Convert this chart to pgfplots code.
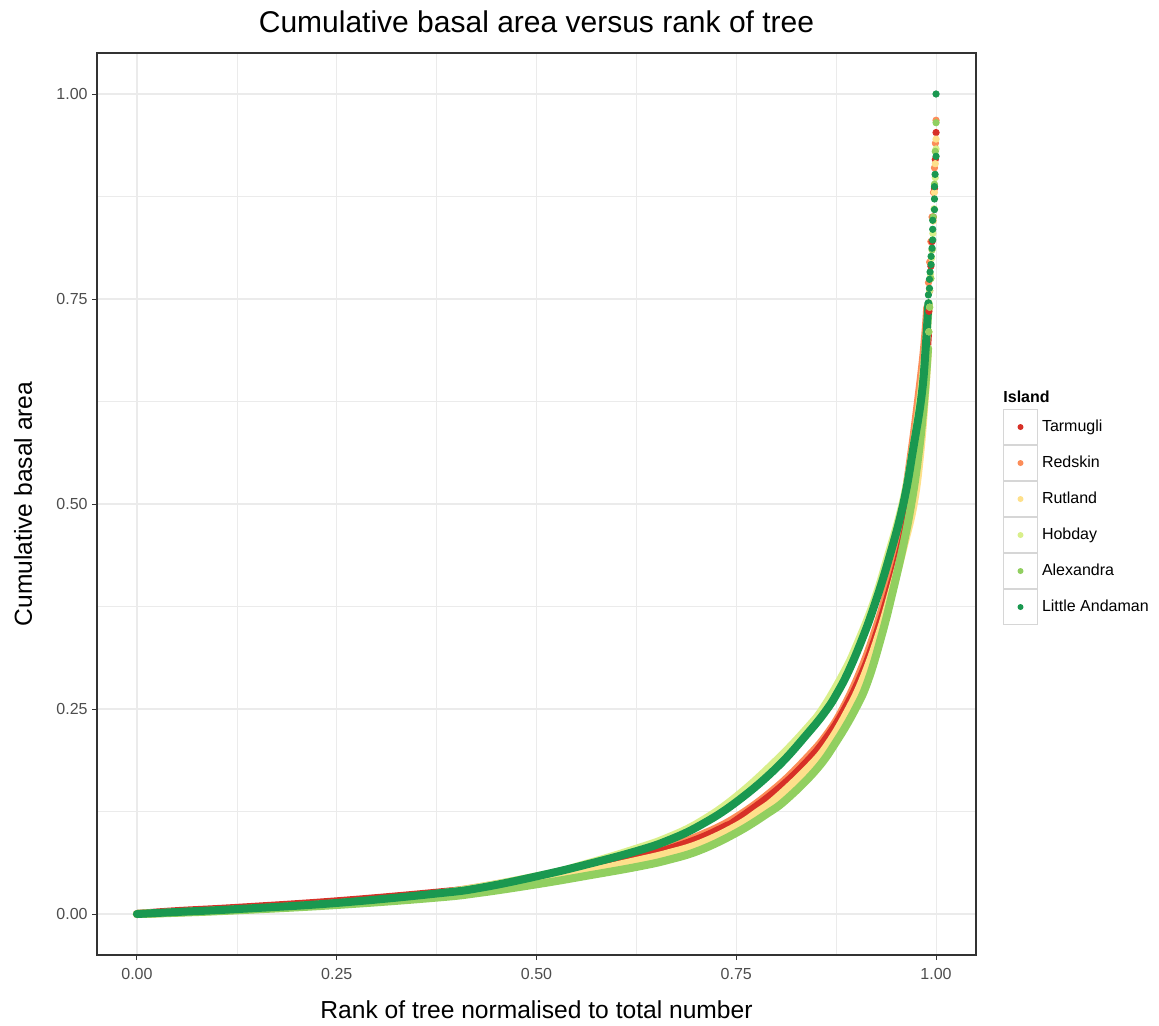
\documentclass[border=0pt]{standalone}
\usepackage{pgfplots}
\pgfplotsset{compat=1.18}
\usepackage{fontspec}
\setmainfont{Liberation Sans}

% RdYlGn palette, one colour per island
\definecolor{tarm}{HTML}{D73027}
\definecolor{reds}{HTML}{FC8D59}
\definecolor{rutl}{HTML}{FEE08B}
\definecolor{hobd}{HTML}{D9EF8B}
\definecolor{alex}{HTML}{91CF60}
\definecolor{litt}{HTML}{1A9850}
\definecolor{grey20}{HTML}{333333}
\definecolor{grey30}{HTML}{4D4D4D}
\definecolor{gridc}{HTML}{EBEBEB}
\definecolor{keyc}{HTML}{D6D6D6}

\pgfplotsset{
  band/.style={no markers, line width=4pt, line join=round, line cap=round, smooth, tension=0.7, forget plot},
  dots/.style={only marks, mark=*, mark size=1.6pt, mark options={draw=none}, forget plot},
}

\begin{document}
\begin{tikzpicture}
\path[use as bounding box] (0,0) rectangle (579.5pt,512.5pt);
\begin{axis}[
  at={(48.5pt,35pt)}, anchor=south west,
  scale only axis, width=439.5pt, height=451pt,
  xmin=-0.05, xmax=1.05, ymin=-0.05, ymax=1.05,
  xtick={0,0.25,0.5,0.75,1}, xticklabels={0.00,0.25,0.50,0.75,1.00},
  ytick={0,0.25,0.5,0.75,1}, yticklabels={0.00,0.25,0.50,0.75,1.00},
  minor xtick={0.125,0.375,0.625,0.875},
  minor ytick={0.125,0.375,0.625,0.875},
  grid=both,
  major grid style={draw=gridc, line width=0.55pt},
  minor grid style={draw=gridc, line width=0.3pt},
  xtick pos=left, ytick pos=left,
  tick align=outside, major tick length=2.5pt, minor tick length=0pt,
  tick style={draw=grey20, line width=0.5pt},
  axis line style={draw=grey20, line width=0.6pt},
  tick label style={font=\fontsize{8}{9.6}\selectfont, text=grey30},
  xticklabel style={anchor=north, inner sep=0pt, yshift=-3.85pt},
  yticklabel style={anchor=east, inner sep=0pt, xshift=-2pt},
  title={Cumulative basal area versus rank of tree},
  title style={at={(axis description cs:0.5,1)}, anchor=base, yshift=4pt, inner sep=0pt, font=\fontsize{15}{18}\selectfont},
  xlabel={Rank of tree normalised to total number},
  xlabel style={at={(axis description cs:0.5,0)}, anchor=base, yshift=-31.5pt, inner sep=0pt, font=\fontsize{12.3}{14.8}\selectfont},
  ylabel={Cumulative basal area},
  ylabel style={at={(axis description cs:0,0.5)}, anchor=base, yshift=32.5pt, inner sep=0pt, font=\fontsize{12.3}{14.8}\selectfont},
  legend image code/.code={
    \draw[draw=keyc, fill=white, line width=0.5pt] (0pt,-8.75pt) rectangle (17pt,8.75pt);
    \fill[draw=none] (8.5pt,0pt) circle (1.5pt);
  },
  legend style={at={(1.0307,0.6053)}, anchor=north west, draw=none, fill=none,
    inner sep=0pt, outer sep=0pt, column sep=0pt, row sep=0pt,
    font=\fontsize{8}{9.6}\selectfont, cells={anchor=west}, name=leg},
]

% legend keys, in the order of the islands
\addlegendimage{color=tarm}\addlegendentry{Tarmugli}
\addlegendimage{color=reds}\addlegendentry{Redskin}
\addlegendimage{color=rutl}\addlegendentry{Rutland}
\addlegendimage{color=hobd}\addlegendentry{Hobday}
\addlegendimage{color=alex}\addlegendentry{Alexandra}
\addlegendimage{color=litt}\addlegendentry{Little Andaman}

% Redskin
\addplot[band, color=reds] coordinates {
 (0,0) (0.125,0.006) (0.25,0.014) (0.375,0.025) (0.505,0.046) (0.565,0.058)
 (0.626,0.072) (0.665,0.082) (0.705,0.096) (0.75,0.118) (0.8,0.154) (0.84,0.192)
 (0.865,0.221) (0.885,0.253) (0.905,0.295) (0.922,0.34) (0.94,0.4) (0.957,0.485)
 (0.968,0.555) (0.978,0.63) (0.985,0.69) (0.989,0.74)};
\addplot[dots, color=reds] coordinates {
 (0.9905,0.77) (0.992,0.795) (0.9935,0.82) (0.995,0.85) (0.9968,0.88)
 (0.998,0.91) (0.9992,0.94) (1.0,0.968)};

% Tarmugli
\addplot[band, color=tarm] coordinates {
 (0,0) (0.05,0.0035) (0.125,0.0075) (0.25,0.0155) (0.375,0.026) (0.43,0.032)
 (0.505,0.045) (0.565,0.056) (0.626,0.069) (0.665,0.079) (0.705,0.0925)
 (0.736,0.1065) (0.75,0.114) (0.8,0.15) (0.84,0.187) (0.865,0.217) (0.885,0.248)
 (0.905,0.287) (0.922,0.33) (0.94,0.387) (0.955,0.44) (0.967,0.495) (0.978,0.57)
 (0.985,0.64) (0.99,0.71)};
\addplot[dots, color=tarm] coordinates {
 (0.991,0.735) (0.992,0.76) (0.9935,0.79) (0.995,0.82) (0.9965,0.85)
 (0.998,0.885) (0.999,0.92) (1.0,0.953)};

% Rutland
\addplot[band, color=rutl] coordinates {
 (0,0) (0.125,0.005) (0.25,0.012) (0.375,0.0215) (0.505,0.041) (0.565,0.052)
 (0.626,0.065) (0.665,0.074) (0.705,0.086) (0.75,0.107) (0.778,0.125) (0.8,0.141)
 (0.84,0.178) (0.865,0.207) (0.891,0.25) (0.91,0.29) (0.93,0.345) (0.945,0.395)
 (0.96,0.45) (0.972,0.5) (0.98,0.56) (0.986,0.63) (0.99,0.69)};
\addplot[dots, color=rutl] coordinates {
 (0.991,0.71) (0.992,0.74) (0.9935,0.775) (0.995,0.81) (0.9965,0.845)
 (0.998,0.88) (0.999,0.915) (1.0,0.945)};

% Hobday
\addplot[band, color=hobd] coordinates {
 (0,0) (0.125,0.0055) (0.25,0.013) (0.375,0.0245) (0.505,0.047) (0.565,0.062)
 (0.626,0.08) (0.665,0.0935) (0.705,0.1125) (0.75,0.143) (0.8,0.187) (0.84,0.228)
 (0.86,0.253) (0.885,0.295) (0.9,0.326) (0.922,0.38) (0.94,0.437)
 (0.958,0.5) (0.97,0.56) (0.98,0.625) (0.987,0.69) (0.991,0.745)};
\addplot[dots, color=hobd] coordinates {
 (0.992,0.76) (0.993,0.78) (0.9945,0.8) (0.996,0.83) (0.9975,0.86)
 (0.999,0.898) (1.0,0.933)};

% Alexandra
\addplot[band, color=alex] coordinates {
 (0,0) (0.05,0.0015) (0.125,0.0045) (0.25,0.011) (0.375,0.02) (0.43,0.026)
 (0.505,0.037) (0.565,0.047) (0.626,0.0576) (0.665,0.066) (0.705,0.078)
 (0.75,0.099) (0.788,0.122) (0.813,0.14) (0.85,0.176) (0.875,0.21) (0.899,0.25)
 (0.915,0.285) (0.932,0.34) (0.945,0.39) (0.958,0.445) (0.969,0.5) (0.978,0.56)
 (0.985,0.625) (0.99,0.69)};
\addplot[dots, color=alex] coordinates {
 (0.991,0.71) (0.992,0.74) (0.9935,0.775) (0.995,0.81) (0.9965,0.85)
 (0.998,0.89) (0.999,0.93) (1.0,0.965)};

% Little Andaman
\addplot[band, color=litt] coordinates {
 (0,0) (0.05,0.0025) (0.125,0.006) (0.25,0.0135) (0.375,0.025) (0.43,0.032)
 (0.505,0.047) (0.565,0.061) (0.626,0.077) (0.665,0.0899) (0.705,0.1083)
 (0.75,0.1366) (0.8,0.178) (0.84,0.221) (0.863,0.249) (0.876,0.269) (0.89,0.295)
 (0.907,0.334) (0.922,0.374) (0.94,0.43) (0.959,0.5) (0.972,0.571) (0.982,0.633)
 (0.987,0.69) (0.9904,0.745)};
\addplot[dots, color=litt] coordinates {
 (0.9904,0.755) (0.9917,0.763) (0.9917,0.774) (0.9925,0.783) (0.9938,0.792)
 (0.9938,0.802) (0.995,0.812) (0.9958,0.822) (0.9958,0.835) (0.9958,0.846)
 (0.998,0.859) (0.998,0.872) (0.998,0.887) (0.9988,0.902) (1.0,0.924) (1.0,1.0)};

\end{axis}
\node[anchor=base west, inner sep=0pt, font=\bfseries\fontsize{8}{9.6}\selectfont]
  at ([yshift=3.5pt]leg.north west) {Island};
\end{tikzpicture}
\end{document}
